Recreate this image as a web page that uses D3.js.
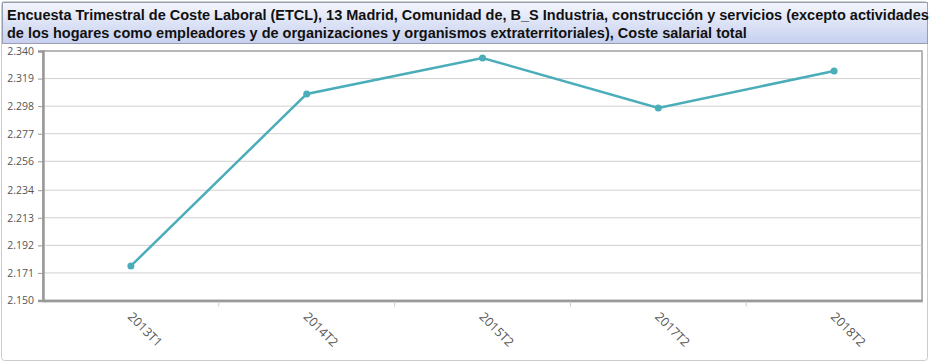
<!DOCTYPE html>
<html>
<head>
<meta charset="utf-8">
<script src="https://cdn.jsdelivr.net/npm/d3@7"></script>
<style>
	body { margin: 0; background: #fff; }
	svg { display: block; }
</style>
</head>
<body>
<svg width="934" height="363"></svg>
<script>
let titleLines = [
	'Encuesta Trimestral de Coste Laboral (ETCL), 13 Madrid, Comunidad de, B_S Industria, construcción y servicios (excepto actividades',
	'de los hogares como empleadores y de organizaciones y organismos extraterritoriales), Coste salarial total'];
let periods = ['2013T1', '2014T2', '2015T2', '2017T2', '2018T2'];
let values = [2.1763, 2.3073, 2.3347, 2.2966, 2.3248];
let yTicks = [2.150, 2.171, 2.192, 2.213, 2.234, 2.256, 2.277, 2.298, 2.319, 2.340];

let svg = d3.select('svg');
let plotLeft = 43, plotRight = 922, plotTop = 51, plotBottom = 300.5;

// outer frame
svg.append('rect')
	.attr('x', 1.5).attr('y', 1.5).attr('width', 926).attr('height', 359)
	.attr('rx', 3)
	.attr('fill', 'none').attr('stroke', '#ccc');

// title box
let grad = svg.append('defs').append('linearGradient')
	.attr('id', 'tg').attr('x1', 0).attr('y1', 0).attr('x2', 0).attr('y2', 1);
grad.append('stop').attr('offset', '0%').attr('stop-color', '#f4f6fd');
grad.append('stop').attr('offset', '100%').attr('stop-color', '#c6d0ef');

svg.append('rect')
	.attr('x', 2.5).attr('y', 2.5).attr('width', 925).attr('height', 41)
	.attr('fill', 'url(#tg)').attr('stroke', '#9a9fb0');

svg.append('g')
	.selectAll('text')
	.data(titleLines)
	.join('text')
	.attr('x', 7)
	.attr('y', (d, i) => 20 + i * 18)
	.attr('font-family', 'Liberation Sans, Arial, sans-serif')
	.attr('font-size', 14.5)
	.attr('font-weight', 'bold')
	.attr('fill', '#111')
	.text(d => d);

let x = d3.scaleBand().domain(periods).range([plotLeft, plotRight]);
let y = d3.scaleLinear().domain([2.150, 2.340]).range([plotBottom, plotTop]);

// shadow under plot
svg.append('rect')
	.attr('x', plotLeft + 1).attr('y', plotTop + 2)
	.attr('width', plotRight - plotLeft).attr('height', plotBottom - plotTop)
	.attr('fill', '#e4e4e4');
svg.append('rect')
	.attr('x', plotLeft).attr('y', plotTop)
	.attr('width', plotRight - plotLeft).attr('height', plotBottom - plotTop)
	.attr('fill', '#fff').attr('stroke', '#a0a0a0').attr('stroke-width', 1.5);

// grid
svg.append('g')
	.selectAll('line')
	.data(yTicks.slice(1, -1))
	.join('line')
	.attr('x1', plotLeft).attr('x2', plotRight)
	.attr('y1', d => y(d)).attr('y2', d => y(d))
	.attr('stroke', '#d0d0d0');

// y axis
let yAxis = svg.append('g')
	.attr('transform', `translate(${plotLeft},0)`)
	.call(d3.axisLeft(y).tickValues(yTicks).tickFormat(d3.format('.3f')).tickSize(5).tickPadding(4));
yAxis.select('.domain').attr('stroke', '#999').attr('stroke-width', 2.5);
yAxis.selectAll('.tick line').attr('stroke', '#999');
yAxis.selectAll('.tick text')
	.attr('fill', '#555')
	.attr('font-family', 'Open Sans, sans-serif')
	.attr('font-size', 10.5);

// x axis
let xAxis = svg.append('g')
	.attr('transform', `translate(0,${plotBottom})`)
	.call(d3.axisBottom(x).tickSize(0));
xAxis.select('.domain').attr('stroke', '#999').attr('stroke-width', 2.5);
xAxis.selectAll('.tick text')
	.attr('fill', '#555')
	.attr('font-family', 'Open Sans, sans-serif')
	.attr('font-size', 12.5)
	.attr('text-anchor', 'start')
	.attr('y', 0)
	.attr('dy', 0)
	.attr('transform', 'translate(-4,17) rotate(45)');

// band separators
svg.append('g')
	.selectAll('line')
	.data(periods.slice(1))
	.join('line')
	.attr('x1', d => x(d)).attr('x2', d => x(d))
	.attr('y1', plotBottom + 1).attr('y2', plotBottom + 6)
	.attr('stroke', '#ccc');

// line
let line = d3.line()
	.x(d => x(d.p) + x.bandwidth() / 2)
	.y(d => y(d.v));
let pts = periods.map((p, i) => ({p: p, v: values[i]}));

svg.append('path')
	.datum(pts)
	.attr('d', line)
	.attr('fill', 'none')
	.attr('stroke', '#4aadb9')
	.attr('stroke-width', 2.5);

svg.append('g')
	.selectAll('circle')
	.data(pts)
	.join('circle')
	.attr('cx', d => x(d.p) + x.bandwidth() / 2)
	.attr('cy', d => y(d.v))
	.attr('r', 3.5)
	.attr('fill', '#4aadb9');
</script>
</body>
</html>
